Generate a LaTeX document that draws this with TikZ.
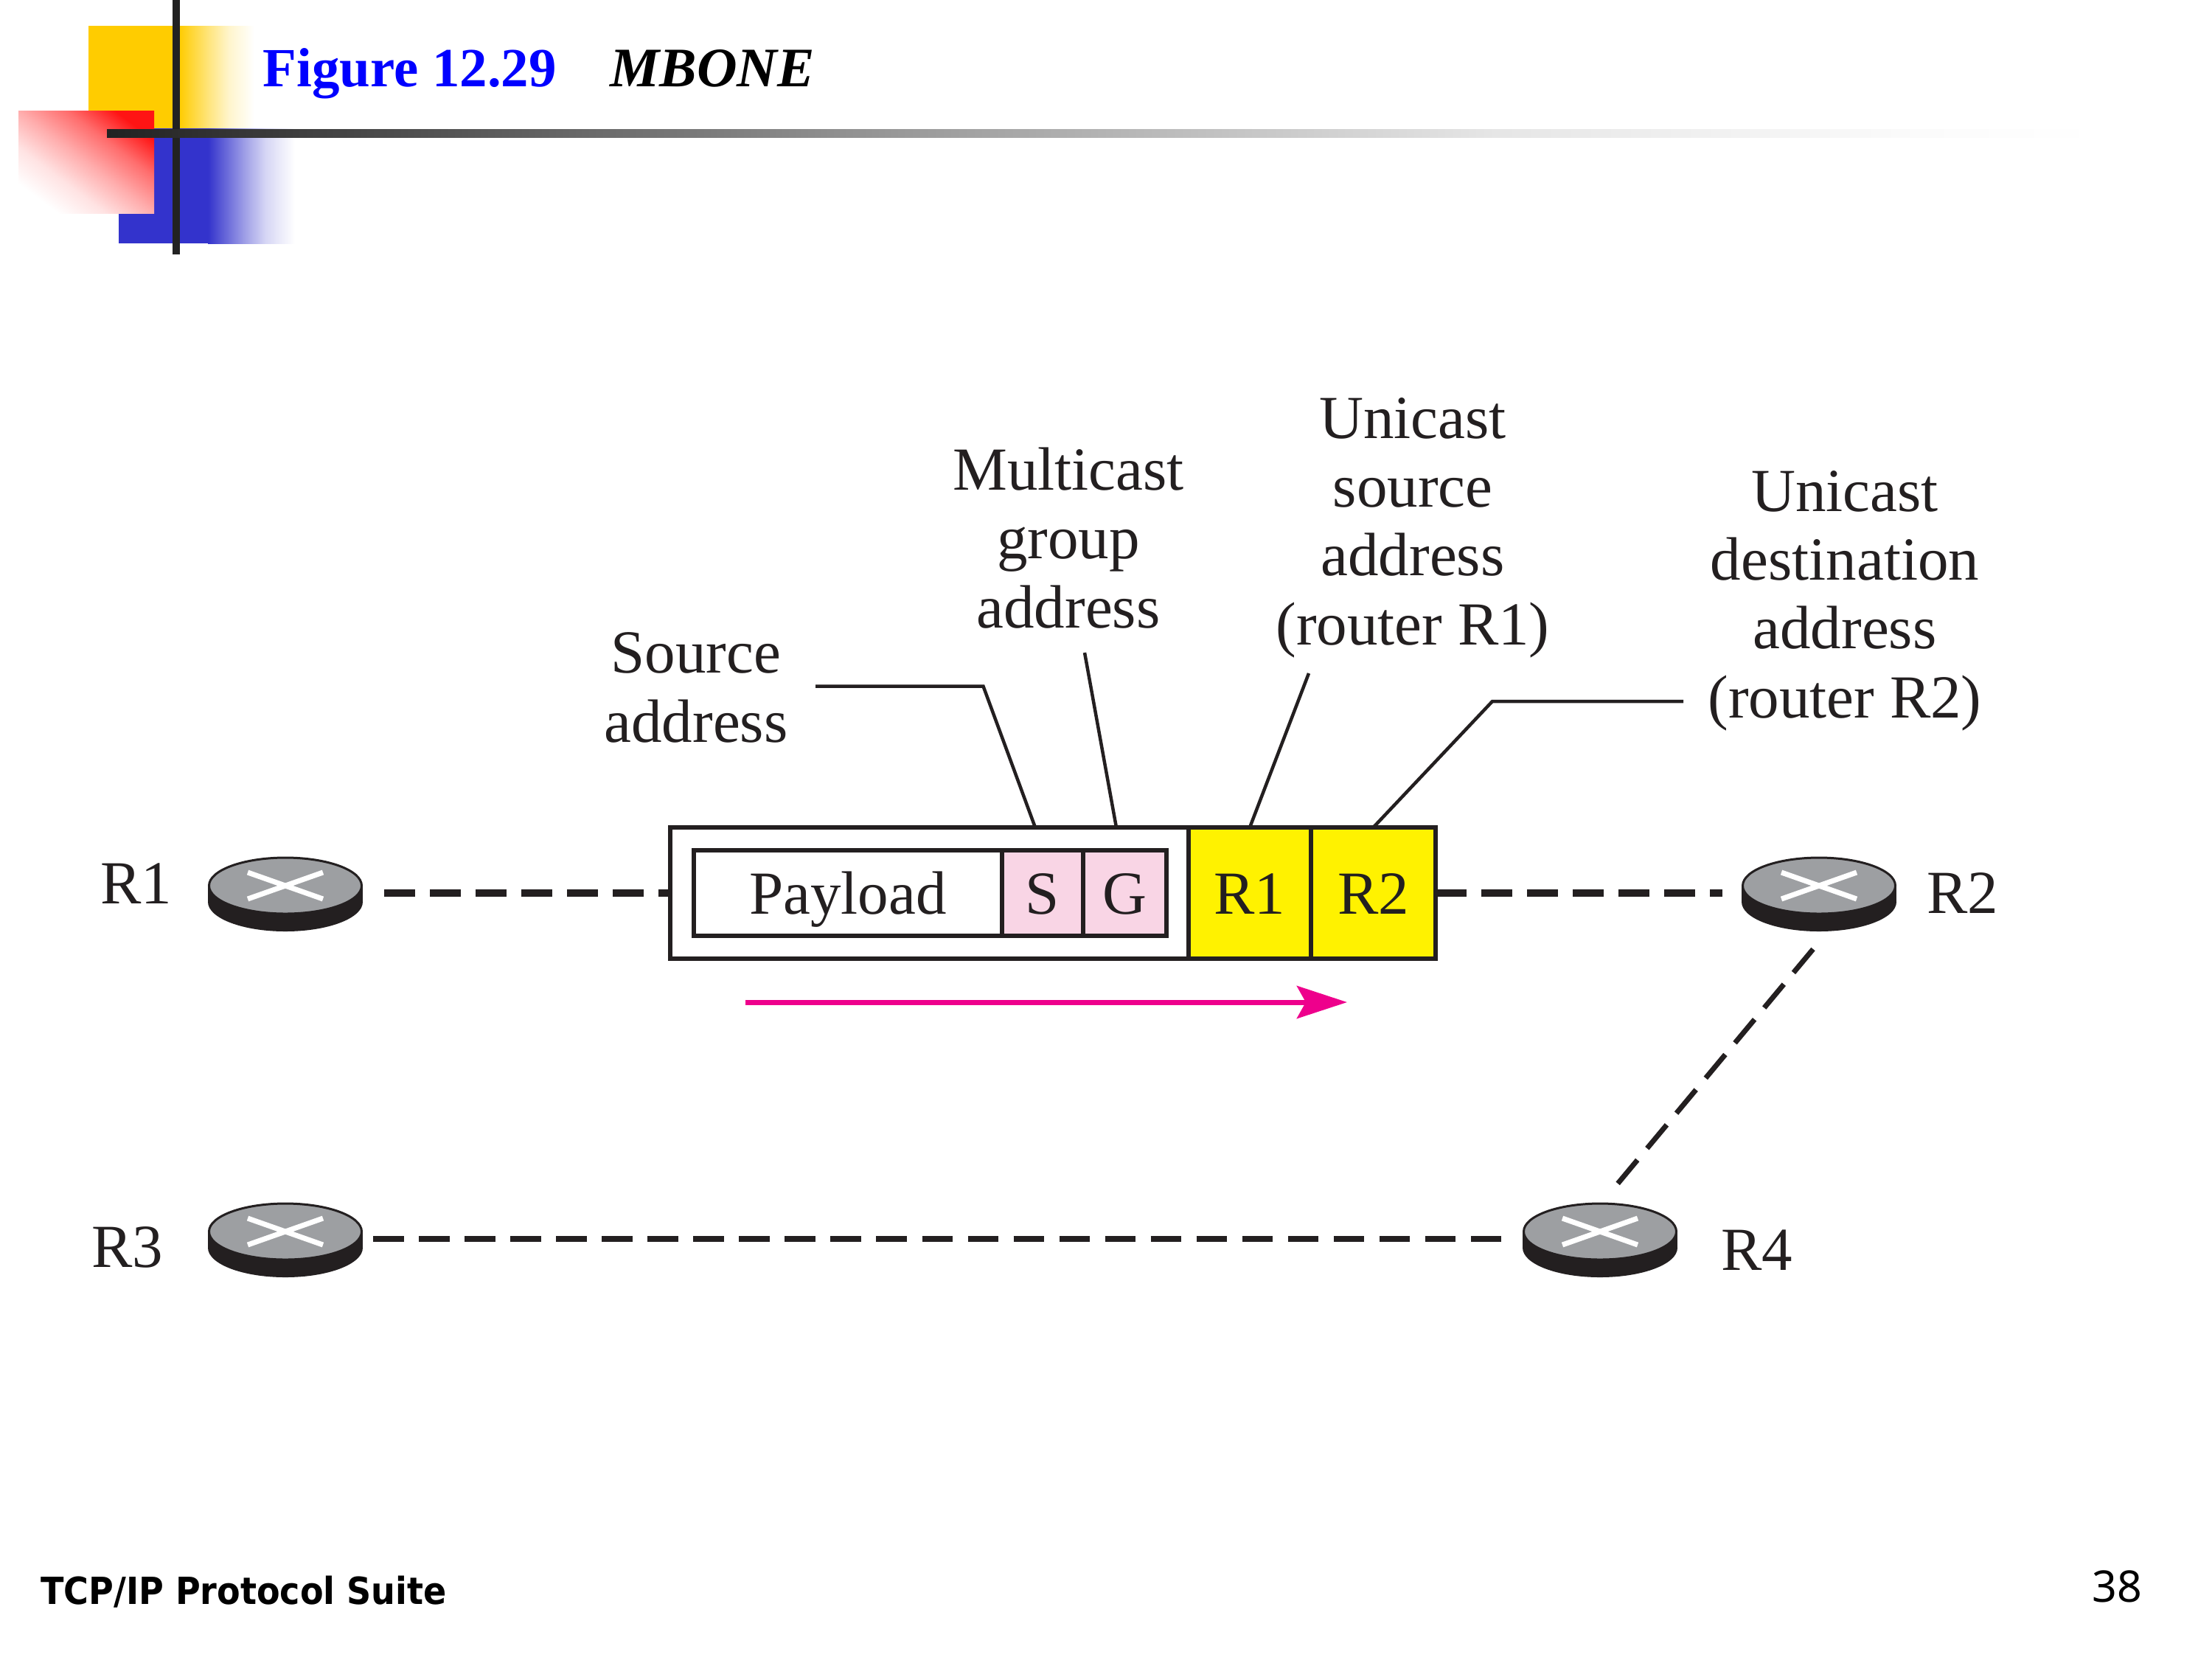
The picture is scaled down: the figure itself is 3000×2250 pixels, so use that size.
\documentclass[tikz,border=0pt]{standalone}
\usepackage{fontspec}
\setmainfont{Liberation Serif}
\newfontfamily\footfont[FakeStretch=0.91]{DejaVu Sans}
\newfontfamily\pagefont{Noto Sans}
\usetikzlibrary{arrows.meta}
\definecolor{ink}{HTML}{231F20}
\definecolor{disc}{HTML}{9D9FA2}
\definecolor{cellyellow}{HTML}{FFF200}
\definecolor{cellpink}{HTML}{F9D5E5}
\definecolor{flow}{HTML}{EE008C}
\definecolor{hdryellow}{HTML}{FFCC00}
\definecolor{hdrblue}{HTML}{3333CC}
\definecolor{hdrred}{HTML}{FF1414}
\definecolor{hdrbar}{HTML}{222222}
\pgfdeclarehorizontalshading{barfade}{100bp}{rgb(0bp)=(.133,.133,.133); rgb(25bp)=(.133,.133,.133); rgb(40.8bp)=(.5,.5,.5); rgb(44.9bp)=(.6,.6,.6); rgb(59.7bp)=(.9,.9,.9); rgb(70.4bp)=(.984,.984,.984); rgb(75bp)=(1,1,1); rgb(100bp)=(1,1,1)}
\pgfdeclarehorizontalshading{yellowfade}{100bp}{color(0bp)=(hdryellow); color(25bp)=(hdryellow); color(45bp)=(hdryellow!50!white); color(58bp)=(hdryellow!20!white); color(75bp)=(white); color(100bp)=(white)}
\pgfdeclarehorizontalshading{bluefade}{100bp}{color(0bp)=(hdrblue); color(25bp)=(hdrblue); color(45bp)=(hdrblue!50!white); color(58bp)=(hdrblue!20!white); color(75bp)=(white); color(100bp)=(white)}
\pgfdeclareverticalshading{redfade}{100bp}{color(0bp)=(white); color(25bp)=(white); color(37.5bp)=(hdrred!12!white); color(50bp)=(hdrred!35!white); color(62.5bp)=(hdrred!62!white); color(75bp)=(hdrred); color(100bp)=(hdrred)}
\tikzset{
  cellbox/.style={draw=ink,line width=.055cm,inner sep=0,outer sep=0,text=ink,text height=.56cm,text depth=0pt},
  lbl/.style={inner sep=0,outer sep=0,text=ink,font=\fontsize{23.6}{26.46}\selectfont,align=center,anchor=base},
  rname/.style={inner sep=0,outer sep=0,text=ink,font=\fontsize{23.6}{26.46}\selectfont,anchor=base west},
  routerbox/.style={inner sep=0,outer sep=0,minimum width=2.08cm,minimum height=1.04cm},
  leader/.style={draw=ink,line width=.045cm,line cap=butt,line join=miter},
  linkheavy/.style={draw=ink,line width=.095cm,dash pattern=on .415cm off .205cm},
  linkthin/.style={draw=ink,line width=.085cm,dash pattern=on .415cm off .205cm},
  linkdiag/.style={draw=ink,line width=.07cm,dash pattern=on .415cm off .205cm},
}
\newcommand{\routerat}[3]{%
  \node[routerbox] (#1) at (#2,#3) {};
  \begin{scope}[shift={(#2,#3-10)}]
    \fill[ink] (-105,0) rectangle (105,22);
    \fill[ink] (0,22) ellipse [x radius=105,y radius=40];
    \filldraw[fill=disc,draw=ink,line width=.03cm] (0,0) ellipse [x radius=103.5,y radius=38];
    \draw[white,line width=.07cm] (-51,-18) -- (51,18) (-51,18) -- (51,-18);
  \end{scope}}
\begin{document}
\begin{tikzpicture}[x=.01cm,y=-.01cm]
\useasboundingbox[fill=white] (0,0) rectangle (3000,2250);
% header ornament
\fill[hdryellow] (120,35) rectangle (243.5,175);
\shade[shading=yellowfade] (243,35) rectangle (345,175);
\fill[hdrblue] (161,174) rectangle (282.5,330);
\shade[shading=bluefade] (282,174) rectangle (400,330);
\shade[shading=redfade,shading angle=-37] (25,150) rectangle (209,289);
\fill[hdrbar] (233.5,0) rectangle (244,345);
\shade[shading=barfade] (145,175) rectangle (2850,186);
% title
\node[inner sep=0,anchor=base west,text=blue,font=\fontsize{21.3}{24}\selectfont\bfseries] (title) at (356,117) {Figure 12.29};
\node[inner sep=0,anchor=base west,text=black,font=\fontsize{21.5}{24}\selectfont\bfseries\itshape] (subtitle) at (827,117) {MBONE};
% routers
\routerat{r1}{387}{1211}
\routerat{r2}{2467}{1211}
\routerat{r3}{387}{1680}
\routerat{r4}{2170}{1680}
\node[rname] (r1name) at (136,1225) {R1};
\node[rname] (r2name) at (2613,1238) {R2};
\node[rname] (r3name) at (124,1718) {R3};
\node[rname] (r4name) at (2334,1722) {R4};
% packet
\node[cellbox,minimum width=7.03cm,minimum height=1.78cm] (outer) at (1260.5,1211) {};
\node[cellbox,fill=cellyellow,minimum width=1.66cm,minimum height=1.78cm,font=\fontsize{23.6}{26}\selectfont] (cr1) at (1695,1211) {R1};
\node[cellbox,fill=cellyellow,minimum width=1.69cm,minimum height=1.78cm,font=\fontsize{23.6}{26}\selectfont] (cr2) at (1862.5,1211) {R2};
\node[cellbox,minimum width=4.18cm,minimum height=1.16cm,font=\fontsize{23.6}{26}\selectfont] (pay) at (1150,1211) {Payload};
\node[cellbox,fill=cellpink,minimum width=1.10cm,minimum height=1.16cm,font=\fontsize{23.6}{26}\selectfont] (cs) at (1414,1211) {S};
\node[cellbox,fill=cellpink,minimum width=1.13cm,minimum height=1.16cm,font=\fontsize{23.6}{26}\selectfont] (cg) at (1525.5,1211) {G};
% labels (anchored at the baseline of the last line)
\node[lbl] (lsrc) at (944,1006) {Source\\address};
\node[lbl] (lmc) at (1449,851) {Multicast\\group\\address};
\node[lbl] (lus) at (1916,874) {Unicast\\source\\address\\(router R1)};
\node[lbl] (lud) at (2502,973) {Unicast\\destination\\address\\(router R2)};
% leaders
\coordinate (a1) at (1106,930.5);
\coordinate (a2) at (1333.5,930.5);
\coordinate (a3) at (1404,1122);
\coordinate (b1) at (1471,885);
\coordinate (b2) at (1514,1122);
\coordinate (c1) at (1775,913);
\coordinate (d1) at (2283,951);
\coordinate (d2) at (2024,951);
\draw[leader] (a1) -- (a2) -- (a3);
\draw[leader] (b1) -- (b2);
\draw[leader] (c1) -- (cr1.north);
\draw[leader] (d1) -- (d2) -- (cr2.north);
% links
\draw[linkheavy,shorten <=.30cm] (r1.east) -- (outer.west);
\draw[linkheavy,shorten >=.27cm] (cr2.east) -- (r2.west);
\draw[linkthin,shorten <=.15cm,shorten >=.29cm] (r3.east) -- (r4.west);
\coordinate (e1) at (2459,1287);
\coordinate (e2) at (2194,1605);
\draw[linkdiag] (e1) -- (e2);
% flow arrow
\coordinate (f1) at (1011,1359);
\coordinate (f2) at (1827,1359);
\draw[flow,line width=.07cm,-{Stealth[length=.68cm,width=.44cm,inset=.12cm]}] (f1) -- (f2);
% footer
\node[inner sep=0,anchor=base west,text=black,font=\footfont\bfseries\fontsize{14.4}{17}\selectfont] (foot) at (54.5,2175) {TCP/IP Protocol Suite};
\node[inner sep=0,anchor=base east,text=black,font=\pagefont\fontsize{16.8}{19}\selectfont] (page) at (2905.5,2172) {38};
\end{tikzpicture}
\end{document}
